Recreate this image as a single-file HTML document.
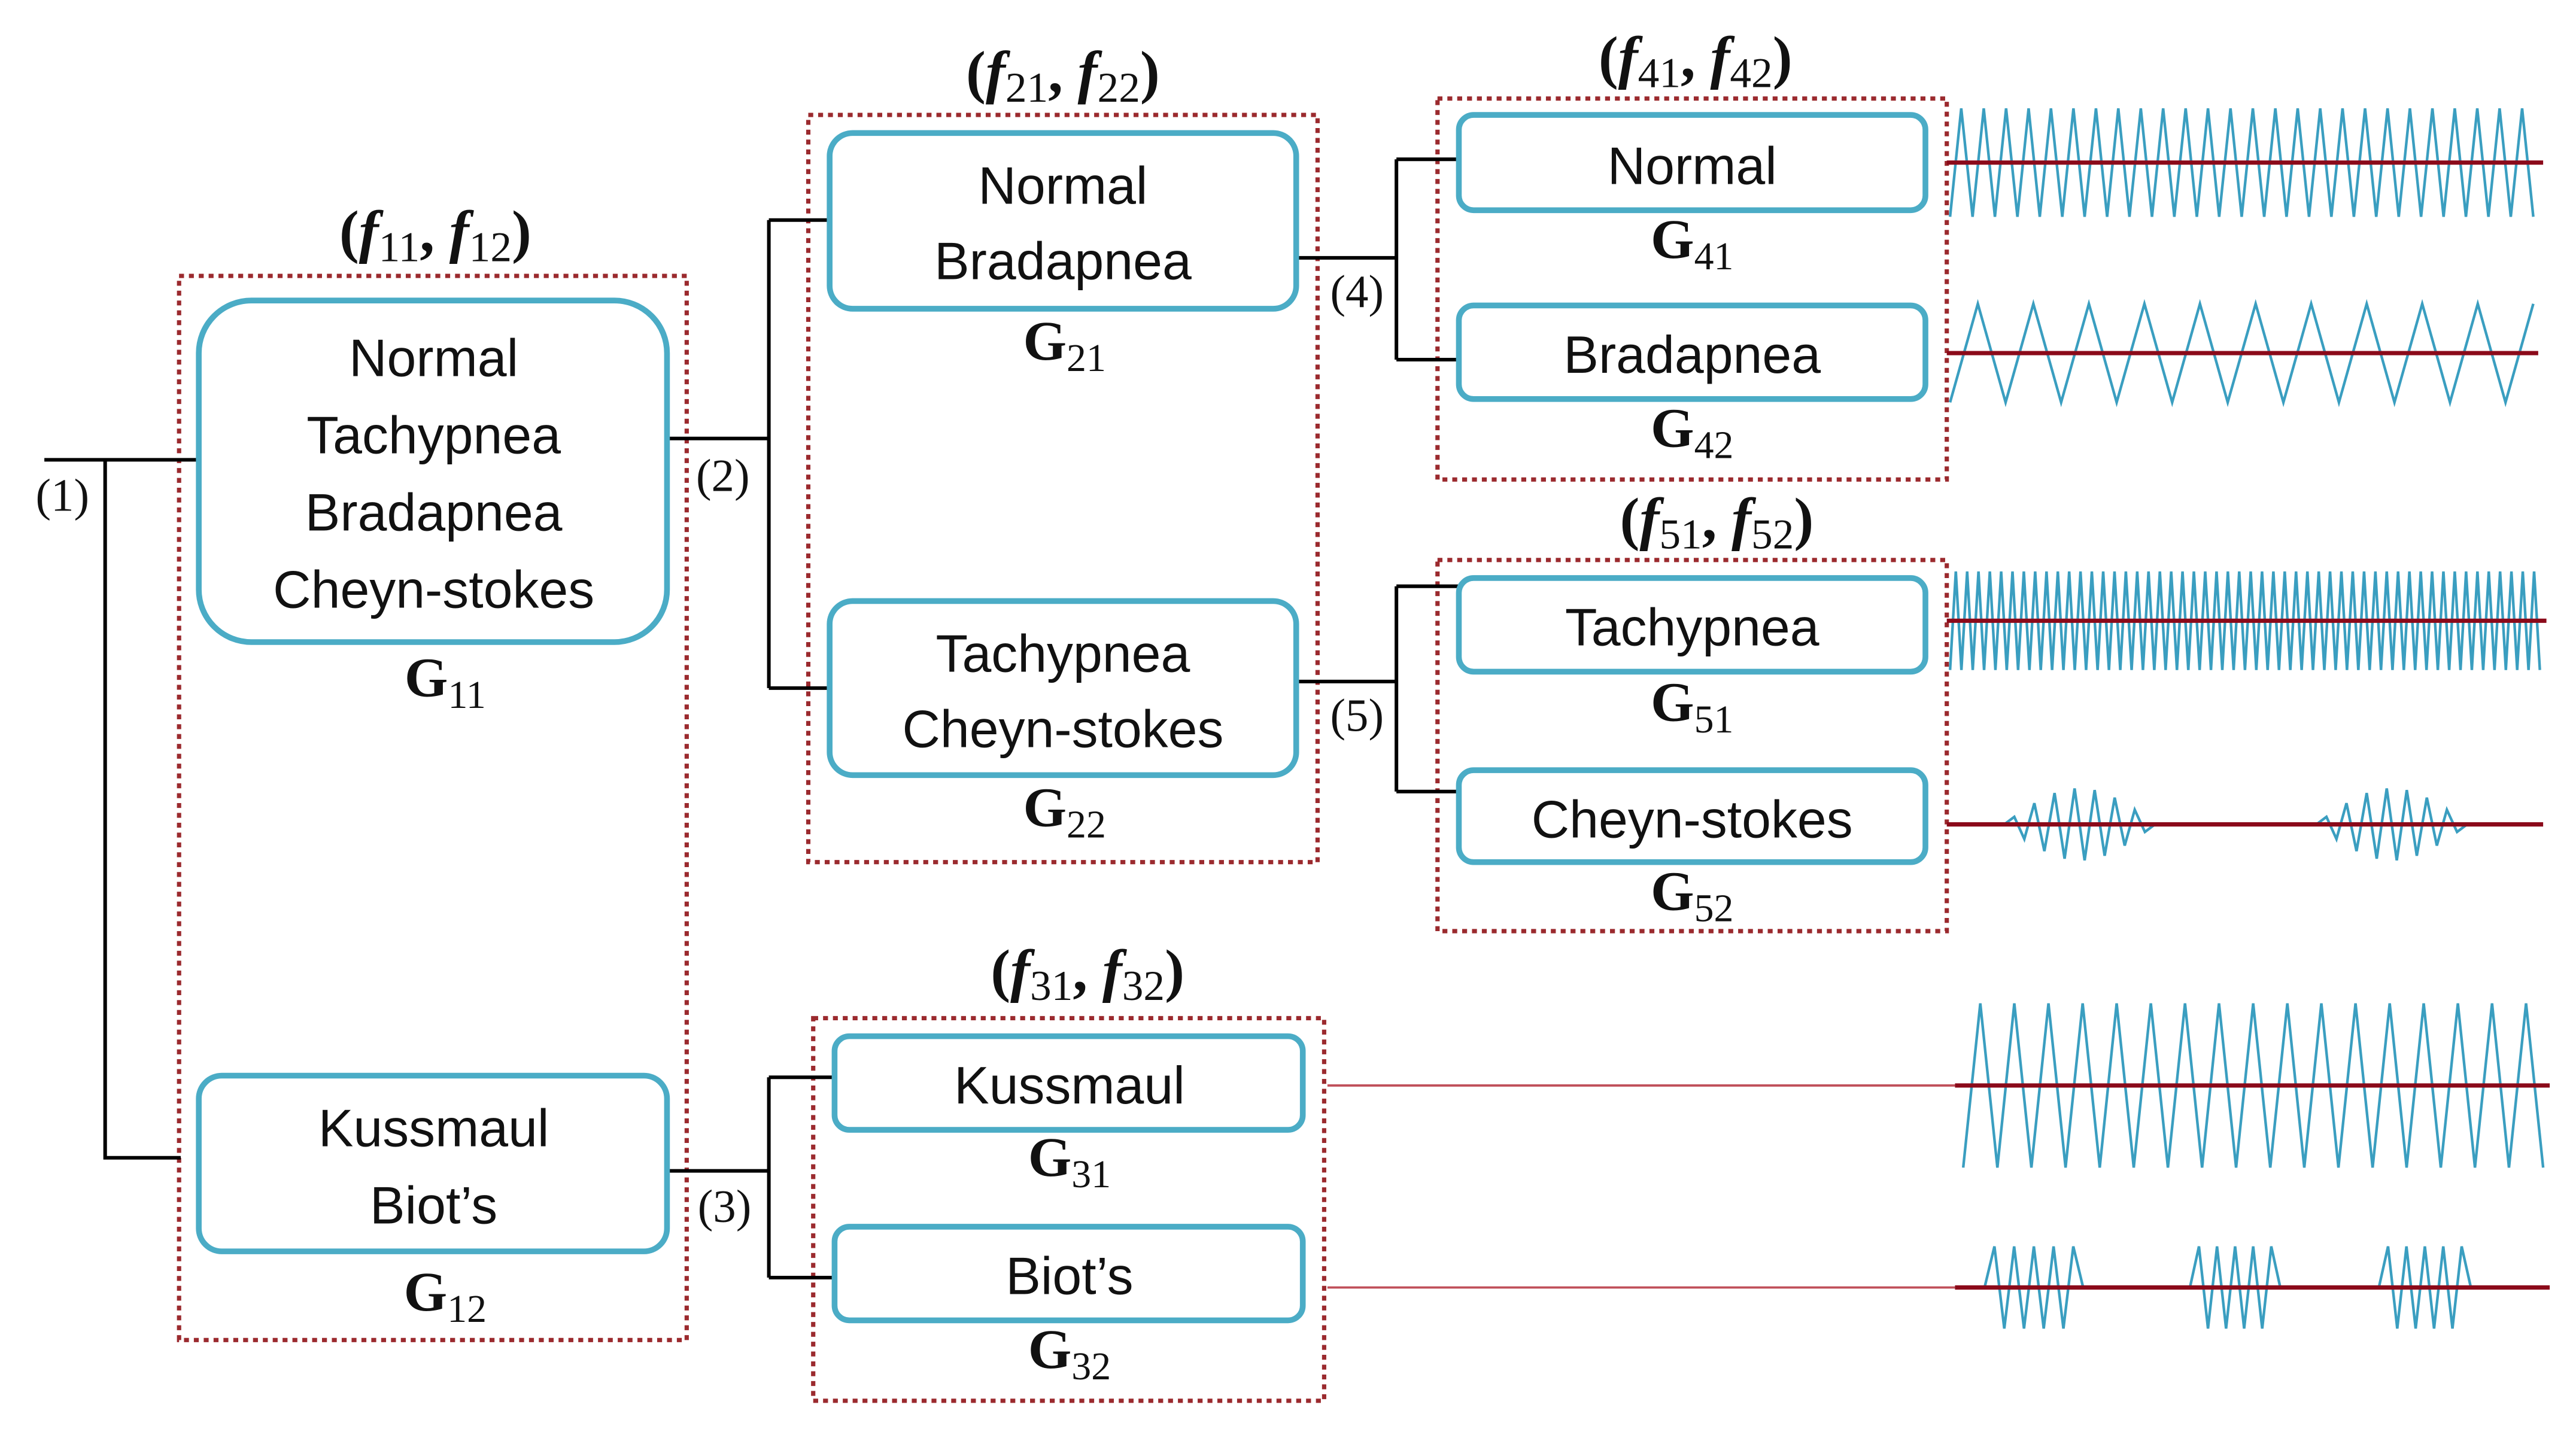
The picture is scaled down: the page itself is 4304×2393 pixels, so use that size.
<!DOCTYPE html>
<html><head><meta charset="utf-8"><style>
html,body{margin:0;padding:0;background:#fff;width:4304px;height:2393px;overflow:hidden}
svg{display:block}
.n{fill:none;stroke:#4bacc6;stroke-width:3.5}
.d{fill:none;stroke:#9b2a2e;stroke-width:2.6;stroke-dasharray:3 3}
.c{fill:none;stroke:#000;stroke-width:2.2}
.t{font-family:"Liberation Sans",sans-serif;font-size:32px;fill:#111;text-anchor:middle}
.g{font-family:"Liberation Serif",serif;font-weight:bold;font-size:34px;fill:#111;text-anchor:middle}
.g tspan.s{font-size:24px;font-weight:normal}
.f{font-family:"Liberation Serif",serif;font-weight:bold;font-size:36px;fill:#111;text-anchor:middle}
.f tspan.s{font-size:26px;font-weight:normal}
.p{font-family:"Liberation Serif",serif;font-size:28px;fill:#111;text-anchor:middle}
.w{fill:none;stroke:#3a9ec0;stroke-width:1.6}
.r{stroke:#8b0a1a;stroke-width:2.6}
</style></head><body>
<svg width="4304" height="2393" viewBox="0 0 1568 872" preserveAspectRatio="none" xmlns="http://www.w3.org/2000/svg">
<rect class="d" x="109" y="168" width="309" height="648"/>
<rect class="d" x="492" y="70" width="310" height="455"/>
<rect class="d" x="875" y="60" width="310" height="232"/>
<rect class="d" x="875" y="341" width="310" height="226"/>
<rect class="d" x="495" y="620" width="311" height="233"/>

<path class="c" d="M27 280H121 M64 280V705H110"/>
<path class="c" d="M406 267H468 M468 134V419 M468 134H505 M468 419H505"/>
<path class="c" d="M406 713H468 M468 656V778 M468 656H508 M468 778H508"/>
<path class="c" d="M789 157H850 M850 97V219 M850 97H888 M850 219H888"/>
<path class="c" d="M789 415H850 M850 357V482 M850 357H888 M850 482H888"/>
<path stroke="#c0505a" stroke-width="1.4" d="M808 661H1190 M808 784H1190"/>

<rect class="n" x="121" y="183" width="285" height="208" rx="32"/>
<rect class="n" x="121" y="655" width="285" height="107" rx="14"/>
<rect class="n" x="505" y="81" width="284" height="107" rx="14"/>
<rect class="n" x="505" y="366" width="284" height="106" rx="14"/>
<rect class="n" x="888" y="70" width="284" height="58" rx="9"/>
<rect class="n" x="888" y="186" width="284" height="57" rx="9"/>
<rect class="n" x="888" y="352" width="284" height="57" rx="9"/>
<rect class="n" x="888" y="469" width="284" height="56" rx="9"/>
<rect class="n" x="508" y="631" width="285" height="57" rx="9"/>
<rect class="n" x="508" y="747" width="285" height="57" rx="9"/>

<text class="t" x="264" y="229">Normal</text>
<text class="t" x="264" y="276">Tachypnea</text>
<text class="t" x="264" y="323">Bradapnea</text>
<text class="t" x="264" y="370">Cheyn-stokes</text>
<text class="t" x="264" y="698">Kussmaul</text>
<text class="t" x="264" y="745">Biot’s</text>
<text class="t" x="647" y="124">Normal</text>
<text class="t" x="647" y="170">Bradapnea</text>
<text class="t" x="647" y="409">Tachypnea</text>
<text class="t" x="647" y="455">Cheyn-stokes</text>
<text class="t" x="1030" y="112">Normal</text>
<text class="t" x="1030" y="227">Bradapnea</text>
<text class="t" x="1030" y="393">Tachypnea</text>
<text class="t" x="1030" y="510">Cheyn-stokes</text>
<text class="t" x="651" y="672">Kussmaul</text>
<text class="t" x="651" y="788">Biot’s</text>

<text class="g" x="271" y="424">G<tspan class="s" dy="7">11</tspan></text>
<text class="g" x="271" y="798">G<tspan class="s" dy="7">12</tspan></text>
<text class="g" x="648" y="219">G<tspan class="s" dy="7">21</tspan></text>
<text class="g" x="648" y="503">G<tspan class="s" dy="7">22</tspan></text>
<text class="g" x="1030" y="157">G<tspan class="s" dy="7">41</tspan></text>
<text class="g" x="1030" y="272">G<tspan class="s" dy="7">42</tspan></text>
<text class="g" x="1030" y="439">G<tspan class="s" dy="7">51</tspan></text>
<text class="g" x="1030" y="554">G<tspan class="s" dy="7">52</tspan></text>
<text class="g" x="651" y="716">G<tspan class="s" dy="7">31</tspan></text>
<text class="g" x="651" y="833">G<tspan class="s" dy="7">32</tspan></text>

<text class="f" x="265" y="153">(<tspan font-style="italic">f</tspan><tspan class="s" dy="6">11</tspan><tspan dy="-6">, </tspan><tspan font-style="italic">f</tspan><tspan class="s" dy="6">12</tspan><tspan dy="-6">)</tspan></text>
<text class="f" x="647" y="56">(<tspan font-style="italic">f</tspan><tspan class="s" dy="6">21</tspan><tspan dy="-6">, </tspan><tspan font-style="italic">f</tspan><tspan class="s" dy="6">22</tspan><tspan dy="-6">)</tspan></text>
<text class="f" x="1032" y="47">(<tspan font-style="italic">f</tspan><tspan class="s" dy="6">41</tspan><tspan dy="-6">, </tspan><tspan font-style="italic">f</tspan><tspan class="s" dy="6">42</tspan><tspan dy="-6">)</tspan></text>
<text class="f" x="1045" y="328">(<tspan font-style="italic">f</tspan><tspan class="s" dy="6">51</tspan><tspan dy="-6">, </tspan><tspan font-style="italic">f</tspan><tspan class="s" dy="6">52</tspan><tspan dy="-6">)</tspan></text>
<text class="f" x="662" y="603">(<tspan font-style="italic">f</tspan><tspan class="s" dy="6">31</tspan><tspan dy="-6">, </tspan><tspan font-style="italic">f</tspan><tspan class="s" dy="6">32</tspan><tspan dy="-6">)</tspan></text>

<text class="p" x="38" y="311">(1)</text>
<text class="p" x="440" y="299">(2)</text>
<text class="p" x="441" y="744">(3)</text>
<text class="p" x="826" y="187">(4)</text>
<text class="p" x="826" y="445">(5)</text>

<g id="waves"></g>
<line class="r" x1="1185" y1="99" x2="1548" y2="99"/>
<line class="r" x1="1185" y1="215" x2="1545" y2="215"/>
<line class="r" x1="1185" y1="378" x2="1550" y2="378"/>
<line class="r" x1="1185" y1="502" x2="1548" y2="502"/>
<line class="r" x1="1190" y1="661" x2="1552" y2="661"/>
<line class="r" x1="1190" y1="784" x2="1552" y2="784"/>
</svg>
<script>
(function(){
var g=document.getElementById('waves'),NS='http://www.w3.org/2000/svg';
function pl(pts){var p=document.createElementNS(NS,'polyline');p.setAttribute('class','w');p.setAttribute('points',pts.join(' '));g.appendChild(p);}
function zig(x0,x1,y,amp,n){var pts=[],step=(x1-x0)/(2*n);for(var i=0;i<=2*n;i++){var a=(i%2?-1:1)*amp(i/(2*n));pts.push((x0+i*step).toFixed(1)+','+(y+a).toFixed(1));}return pts;}
pl(zig(1187,1542,99,function(){return 33;},26));
pl(zig(1187,1542,215,function(){return 30;},10.5));
pl(zig(1187,1546,378,function(){return 30;},52));
function burst(x0,x1,y,A,n,env){var pts=[x0+','+y],step=(x1-x0)/(2*n);for(var i=1;i<2*n;i++){var t=i/(2*n),a=env?A*Math.sin(Math.PI*Math.min(1,t*1.2)):A;pts.push((x0+i*step).toFixed(1)+','+(y+(i%2?-1:1)*a).toFixed(1));}pts.push(x1+','+y);return pts;}
var cs=['1187,502'].concat(burst(1220,1330,502,22,9,true)).concat(burst(1410,1520,502,22,9,true));cs.push('1545,502');pl(cs);
pl(zig(1195,1548,661,function(){return 50;},17));
var b=['1190,784'];[[1208,1268],[1333,1388],[1448,1504]].forEach(function(r){b=b.concat(burst(r[0],r[1],784,25,5,false));});b.push('1550,784');pl(b);
})();
</script>
</body></html>
